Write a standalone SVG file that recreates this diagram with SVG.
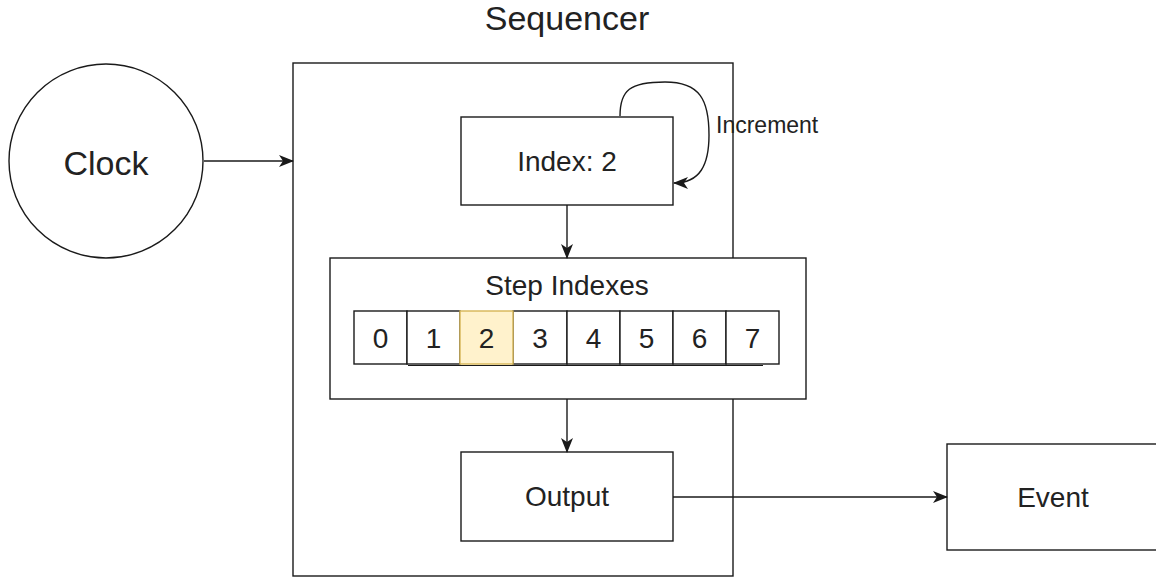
<svg xmlns="http://www.w3.org/2000/svg" width="1156" height="577" viewBox="0 0 1156 577">
<style>
.box{fill:#ffffff;stroke:#1a1a1a;stroke-width:1.4}
.hl{fill:#fff2cc;stroke:#d6b656;stroke-width:1.4}
.t{font-family:"Liberation Sans",Arial,sans-serif;fill:#222222;text-anchor:middle}
.edge{fill:none;stroke:#1a1a1a;stroke-width:1.4}
</style>
<defs>
<marker id="arr" markerUnits="userSpaceOnUse" markerWidth="15" markerHeight="12" viewBox="0 0 15 12" refX="14" refY="6" orient="auto">
<path d="M0,0 L15,6 L0,12 L4,6 z" fill="#1a1a1a"/>
</marker>
</defs>
<rect width="1156" height="577" fill="#ffffff"/>
<g id="sequencer">
<rect class="box" x="293" y="63" width="440" height="513"/>
<text class="t" x="567" y="30" font-size="34">Sequencer</text>
</g>
<g id="clock">
<circle class="box" cx="106" cy="161" r="97"/>
<text class="t" x="106" y="175" font-size="34">Clock</text>
</g>
<g id="index">
<rect class="box" x="461" y="117" width="212" height="88"/>
<text class="t" x="567" y="171" font-size="28">Index: 2</text>
</g>
<g id="step-indexes">
<rect class="box" x="330" y="258" width="476" height="141"/>
<text class="t" x="567" y="295" font-size="28">Step Indexes</text>
<line x1="408" y1="365.5" x2="763" y2="365.5" stroke="#1a1a1a" stroke-width="1.2"/>
</g>
<g id="cell-0"><rect class="box" x="354" y="311" width="53" height="53"/><text class="t" x="380.5" y="348" font-size="28">0</text></g>
<g id="cell-1"><rect class="box" x="407" y="311" width="53" height="53"/><text class="t" x="433.5" y="348" font-size="28">1</text></g>
<g id="cell-3"><rect class="box" x="513" y="311" width="54" height="53"/><text class="t" x="540" y="348" font-size="28">3</text></g>
<g id="cell-4"><rect class="box" x="567" y="311" width="53" height="53"/><text class="t" x="593.5" y="348" font-size="28">4</text></g>
<g id="cell-5"><rect class="box" x="620" y="311" width="53" height="53"/><text class="t" x="646.5" y="348" font-size="28">5</text></g>
<g id="cell-6"><rect class="box" x="673" y="311" width="53" height="53"/><text class="t" x="699.5" y="348" font-size="28">6</text></g>
<g id="cell-7"><rect class="box" x="726" y="311" width="53" height="53"/><text class="t" x="752.5" y="348" font-size="28">7</text></g>
<g id="cell-2"><rect class="hl" x="460" y="311" width="53" height="53"/><text class="t" x="486.5" y="348" font-size="28">2</text></g>
<g id="output">
<rect class="box" x="461" y="452" width="212" height="89"/>
<text class="t" x="567" y="506" font-size="28">Output</text>
</g>
<g id="event">
<rect class="box" x="947" y="444" width="212" height="106"/>
<text class="t" x="1053" y="507" font-size="28">Event</text>
</g>
<g id="connectors">
<path class="edge" d="M204,161 L293,161" marker-end="url(#arr)"/>
<path class="edge" d="M567,205 L567,258" marker-end="url(#arr)"/>
<path class="edge" d="M567,399 L567,452" marker-end="url(#arr)"/>
<path class="edge" d="M673,497 L947,497" marker-end="url(#arr)"/>
<path class="edge" d="M620,116 C620,90 630,82 665,82 C700,82 709,100 709,135 C709,165 700,183 674,183" marker-end="url(#arr)"/>
<text x="716" y="133" font-size="23" font-family="Liberation Sans, Arial, sans-serif" fill="#222222">Increment</text>
</g>
</svg>
